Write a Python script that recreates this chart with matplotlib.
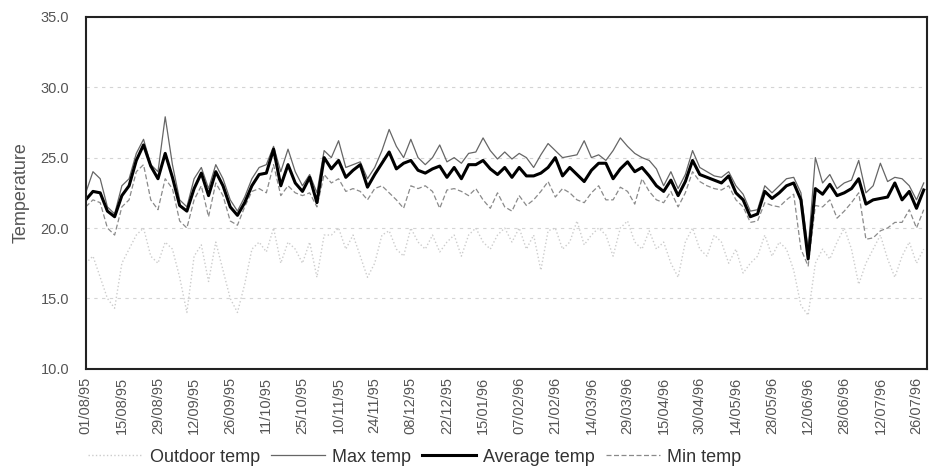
import matplotlib.pyplot as plt

# tick labels every 5 readings (working days, holidays skipped)
date_labels = ['01/08/95', '15/08/95', '29/08/95', '12/09/95', '26/09/95', '11/10/95',
               '25/10/95', '10/11/95', '24/11/95', '08/12/95', '22/12/95', '15/01/96',
               '07/02/96', '21/02/96', '14/03/96', '29/03/96', '15/04/96', '30/04/96',
               '14/05/96', '28/05/96', '12/06/96', '28/06/96', '12/07/96', '26/07/96']

avg_temp = [22.0, 22.6, 22.5, 21.2, 20.8, 22.3, 23.0, 24.8, 25.9, 24.4,
            23.5, 25.3, 23.6, 21.6, 21.2, 22.8, 23.9, 22.3, 24.0, 23.0,
            21.5, 20.9, 21.8, 23.0, 23.8, 23.9, 25.6, 23.0, 24.5, 23.2,
            22.6, 23.6, 21.8, 25.0, 24.2, 24.8, 23.6, 24.1, 24.5, 22.9,
            23.8, 24.6, 25.4, 24.2, 24.6, 24.8, 24.1, 23.9, 24.2, 24.4,
            23.6, 24.3, 23.5, 24.5, 24.5, 24.8, 24.2, 23.8, 24.3, 23.6,
            24.3, 23.7, 23.7, 23.9, 24.3, 25.0, 23.7, 24.3, 23.8, 23.3,
            24.1, 24.6, 24.6, 23.5, 24.2, 24.7, 24.0, 24.3, 23.7, 23.0,
            22.6, 23.4, 22.3, 23.3, 24.8, 23.8, 23.6, 23.4, 23.2, 23.7,
            22.5, 22.0, 20.8, 21.0, 22.6, 22.1, 22.5, 23.0, 23.2, 22.0,
            17.8, 22.8, 22.4, 23.1, 22.3, 22.5, 22.8, 23.5, 21.7, 22.0,
            22.1, 22.2, 23.2, 22.0, 22.6, 21.4, 22.7]

max_temp = [22.5, 24.0, 23.5, 21.5, 21.0, 23.0, 23.5, 25.3, 26.3, 24.5,
            24.0, 27.9, 24.5, 22.0, 21.5, 23.5, 24.3, 22.8, 24.5, 23.5,
            22.0, 21.2, 22.2, 23.5, 24.3, 24.5, 25.8, 24.0, 25.6, 24.0,
            23.0, 23.8, 22.5, 25.5, 25.0, 26.2, 24.3, 24.5, 24.7, 23.5,
            24.3, 25.5, 27.0, 25.8, 25.0, 26.3, 25.0, 24.5, 25.0, 25.9,
            24.7, 25.0, 24.6, 25.3, 25.4, 26.4, 25.5, 24.9, 25.4, 24.9,
            25.3, 25.0, 24.3, 25.2, 26.0, 25.5, 25.0, 25.1, 25.2, 26.2,
            25.0, 25.2, 24.8, 25.5, 26.4, 25.8, 25.3, 25.0, 24.8, 24.2,
            23.0, 24.0, 22.8, 23.8, 25.5, 24.3, 24.0, 23.7, 23.6, 24.0,
            23.0, 22.4, 21.2, 21.3, 23.0, 22.5, 23.0, 23.5, 23.6, 22.5,
            18.5, 25.0, 23.2, 23.8, 22.8, 23.2, 23.4, 24.8, 22.5, 23.0,
            24.6, 23.3, 23.6, 23.5, 23.0, 22.0, 23.2]

min_temp = [21.5, 22.0, 21.8, 20.0, 19.5, 21.5, 22.0, 24.0, 24.5, 22.0,
            21.3, 23.5, 22.8, 20.5, 20.0, 22.0, 23.0, 20.8, 23.2, 22.3,
            20.5, 20.2, 21.5, 22.6, 22.8, 22.5, 24.5, 22.3, 23.0, 22.5,
            22.3, 22.5, 21.5, 23.8, 23.2, 23.5, 22.6, 22.8, 22.6, 22.0,
            22.8, 23.0, 22.5, 22.0, 21.4, 23.0, 22.8, 23.0, 22.6, 21.4,
            22.7, 22.8, 22.6, 22.3, 22.8, 22.0, 21.4, 22.5, 21.5, 21.2,
            22.3, 21.6, 22.0, 22.6, 23.3, 22.2, 22.8, 22.5, 22.0, 21.8,
            22.5, 23.0, 22.0, 22.0, 22.9, 22.6, 21.7, 23.5, 22.6, 22.0,
            21.8, 22.6, 21.5, 22.5, 24.0, 23.3, 23.0, 22.8, 22.7, 23.0,
            22.0, 21.5, 20.4, 20.5, 21.8, 21.6, 21.5, 22.0, 22.4, 18.5,
            17.3, 21.6, 21.5, 22.0, 20.7, 21.2, 21.8, 22.5, 19.2, 19.3,
            19.8, 20.0, 20.4, 20.4, 21.3, 20.0, 21.3]

outdoor_temp = [17.5, 18.0, 16.5, 15.0, 14.3, 17.5, 18.5, 19.5, 20.0, 18.0,
                17.5, 19.0, 18.5, 16.5, 14.0, 18.0, 18.8, 16.2, 19.0, 17.0,
                15.0, 14.0, 16.0, 18.5, 19.0, 18.3, 20.0, 17.5, 19.0, 18.5,
                17.5, 19.0, 16.5, 19.5, 19.5, 20.0, 18.5, 19.5, 18.0, 16.5,
                17.5, 19.5, 19.8, 18.5, 18.0, 20.0, 19.0, 18.5, 19.5, 18.3,
                19.0, 19.5, 18.0, 19.5, 20.0, 19.0, 18.5, 19.5, 20.0, 19.0,
                20.0, 18.5, 19.5, 17.0, 19.8, 20.0, 18.5, 19.0, 20.5, 18.8,
                19.5, 20.0, 19.5, 18.0, 20.0, 20.5, 19.0, 18.5, 19.8, 18.5,
                19.0, 17.5, 16.5, 19.0, 20.0, 18.5, 18.0, 19.5, 19.0, 17.5,
                18.5, 16.8, 17.5, 18.0, 19.5, 18.0, 19.0, 18.5, 17.0, 14.5,
                13.8, 17.5, 18.5, 17.8, 19.0, 20.0, 18.5, 16.0, 17.5, 18.5,
                19.5, 17.8, 16.5, 18.0, 19.0, 17.5, 18.5]

plt.rcParams['font.family'] = ['Liberation Sans', 'DejaVu Sans']

fig = plt.figure(figsize=(9.32, 4.68), dpi=100)
ax = fig.add_axes([0.092, 0.212, 0.903, 0.752])

x = list(range(len(avg_temp)))
l_out, = ax.plot(x, outdoor_temp, color='#cccccc', lw=1.0, ls=':', label='Outdoor temp')
l_max, = ax.plot(x, max_temp, color='#666666', lw=0.9, label='Max temp')
l_min, = ax.plot(x, min_temp, color='#8a8a8a', lw=0.9, ls=(0, (4, 2)), label='Min temp')
l_avg, = ax.plot(x, avg_temp, color='black', lw=2.2, label='Average temp')

ax.set_xlim(0, len(avg_temp) - 0.5)
ax.set_ylim(10, 35)
ax.set_yticks([10, 15, 20, 25, 30, 35])
ax.set_yticklabels(['%.1f' % v for v in [10, 15, 20, 25, 30, 35]], fontsize=10.5)
ax.set_xticks(range(0, 5 * len(date_labels), 5))
ax.set_xticklabels(date_labels, rotation=90, fontsize=10.5)
ax.tick_params(length=0, colors='#555555', pad=6)
ax.tick_params(axis='y', pad=12)
ax.grid(axis='y', color='#d4d4d4', ls=(0, (3, 4)), lw=0.8)
for s in ax.spines.values():
    s.set_linewidth(1.5)
    s.set_color('#222222')

ax.set_ylabel('Temperature', fontsize=13, color='#555555', labelpad=8)

fig.legend([l_out, l_max, l_avg, l_min],
           ['Outdoor temp', 'Max temp', 'Average temp', 'Min temp'],
           loc='lower center', bbox_to_anchor=(0.445, -0.03), ncol=4, frameon=False,
           fontsize=13, handlelength=3.0, handletextpad=0.4, columnspacing=0.6,
           labelcolor='#333333')

plt.savefig('out.png')
